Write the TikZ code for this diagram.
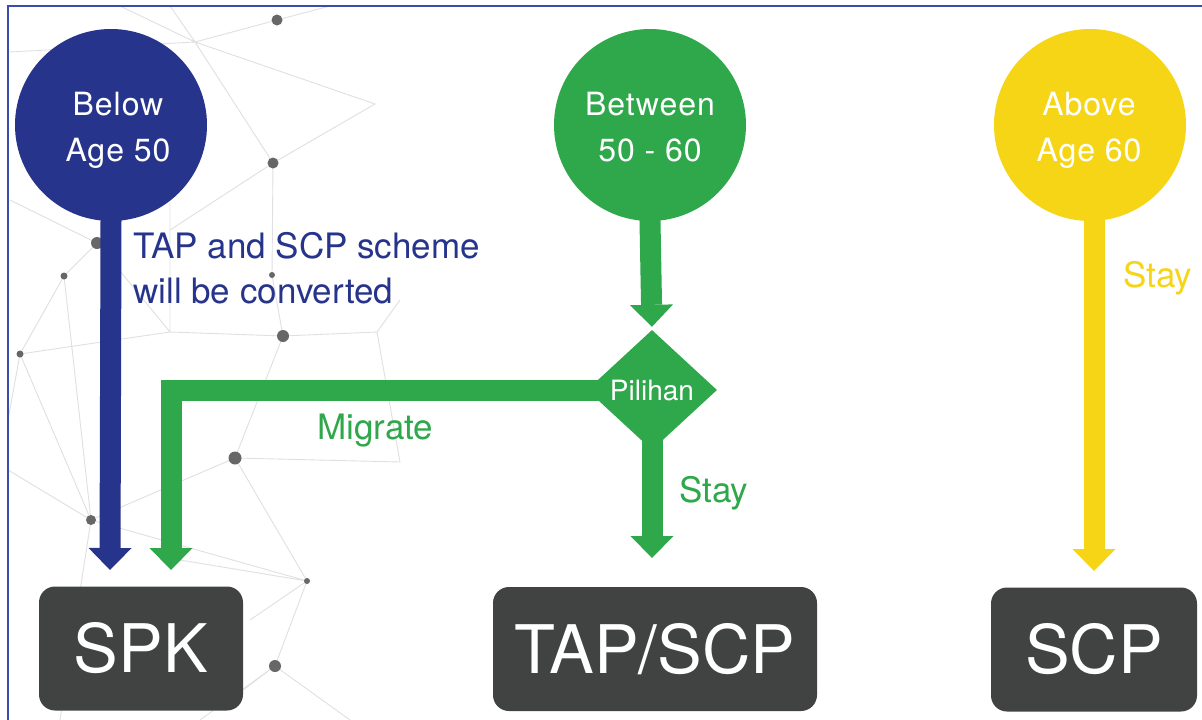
\documentclass[tikz,border=0pt]{standalone}
\usepackage{fontspec}
\setmainfont{TeX Gyre Heros}
\usetikzlibrary{arrows.meta,shapes.geometric}
\definecolor{navy}{HTML}{27348B}
\definecolor{grn}{HTML}{2EA84A}
\definecolor{ylw}{HTML}{F6D516}
\definecolor{boxgray}{HTML}{414242}
\definecolor{framec}{HTML}{3A4DAA}
\definecolor{netline}{HTML}{E0E0E3}
\definecolor{netdot}{HTML}{676767}
\newcommand{\ph}{\vphantom{Ag}}
\begin{document}
\begin{tikzpicture}[x=1pt,y=-1pt,
  agecircle/.style={circle,minimum size=192pt,inner sep=0pt},
  circtext/.style={inner sep=0pt,text=white,align=center,
    font=\fontsize{32}{46}\selectfont\addfontfeature{LetterSpace=3}},
  fatarrow/.style={line width=21pt,line join=miter,
    -{Triangle[width=43pt,length=22pt,line width=0pt]}},
  resultbox/.style={rectangle,rounded corners=16pt,fill=boxgray,text=white,inner sep=0pt,
    minimum height=124pt,font=\fontsize{67}{70}\selectfont},
  lbl/.style={anchor=base west,inner sep=0pt,font=\fontsize{35}{45}\selectfont},
  netl/.style={draw=netline,line width=0.9pt},
  netd/.style={fill=netdot}
]
\useasboundingbox (0,0) rectangle (1202,720);
\fill[white] (0,0) rectangle (1202,720);
% background network
\coordinate (n1) at (277,20);  \coordinate (n2) at (195,42);
\coordinate (n3) at (375,104); \coordinate (n4) at (273,163);
\coordinate (n5) at (97,243);  \coordinate (n6) at (64,276);
\coordinate (n7) at (272,275); \coordinate (n8) at (20,354);
\coordinate (n9) at (283,336); \coordinate (n10) at (170,332);
\coordinate (n11) at (235,458);\coordinate (n12) at (91,520);
\coordinate (n13) at (307,581);\coordinate (n14) at (275,666);
\coordinate (n15) at (400,462);\coordinate (n16) at (377,332);
\draw[netl] (n1)--(n2)--(n3)--(n4)--(n2);
\draw[netl] (n2)--(170,6) (n2)--(120,6) (n2)--(10,52) (n1)--(330,6);
\draw[netl] (n4)--(n7)--(n9) (n4)--(170,230) (n5)--(n6)--(n8)--(n10)--(n9)--(n16)--(n15)--(n11)--(n9);
\draw[netl] (n10)--(170,140) (n5)--(10,200) (n5)--(n10) (n6)--(n12);
\draw[netl] (n11)--(n13)--(n12)--(n8) (n12)--(n11) (n13)--(n14)--(350,720) (n14)--(200,720) (n13)--(250,620) (n14)--(243,690);
\draw[netl] (n12)--(8,470) (n8)--(8,420) (n12)--(60,720) (n13)--(180,560) (n16)--(400,300);
\foreach \p/\r in {n1/5.5,n4/5.5,n5/6,n6/3.5,n7/3,n8/3.5,n9/6,n11/6.5,n12/5,n13/3,n14/6}
  \fill[netd] (\p) circle (\r pt);
% frame
\draw[framec,line width=1.6pt] (8,720) -- (8,6) -- (1202,6);
% nodes
\node[agecircle,fill=navy] (below) at (111,125) {};
\node[agecircle,fill=grn] (between) at (650,125) {};
\node[agecircle,fill=ylw] (above) at (1090,125) {};
\node[circtext] (belowtxt) at (118,130) {\ph Below\\\ph Age 50};
\node[circtext] (betweentxt) at (650,130) {\ph Between\\\ph 50 - 60};
\node[circtext] (abovetxt) at (1089,130) {\ph Above\\\ph Age 60};
\node[diamond,fill=grn,minimum width=130pt,minimum height=120pt,inner sep=0pt,text=white,
  font=\fontsize{28}{30}\selectfont] (pilihan) at (652,390) {Pilihan};
\node[resultbox,minimum width=204pt] (spk) at (141,648.5) {SPK};
\node[resultbox,minimum width=324pt] (tapscp) at (655,649) {TAP/SCP};
\node[resultbox,minimum width=206pt] (scp) at (1094,649.5) {SCP};
\coordinate (spkin1) at (110,570);
\coordinate (spkin2) at (171,570);
\coordinate (tapin) at (652,558);
\coordinate (scpin) at (1094,571);
\coordinate (abovestart) at (1094,200);
% connectors
\draw[fatarrow,navy,shorten <=-3pt] (below.south) -- (spkin1);
\draw[fatarrow,grn,shorten <=-3pt,shorten >=3pt] (between.south) -- (pilihan.north);
\draw[fatarrow,grn,shorten <=-12pt] (pilihan.west) -| (spkin2);
\draw[fatarrow,grn,shorten <=-12pt] (pilihan.south) -- (tapin);
\draw[fatarrow,ylw] (abovestart) -- (scpin);
% labels
\node[lbl,text=navy,align=left,anchor=north west] (conv) at (133,232) {TAP and SCP scheme\\will be converted};
\node[lbl,text=grn] (migrate) at (317,439) {Migrate};
\node[lbl,text=grn] (stay1) at (679,502) {Stay};
\node[lbl,text=ylw] (stay2) at (1123,287) {Stay};
\end{tikzpicture}
\end{document}
